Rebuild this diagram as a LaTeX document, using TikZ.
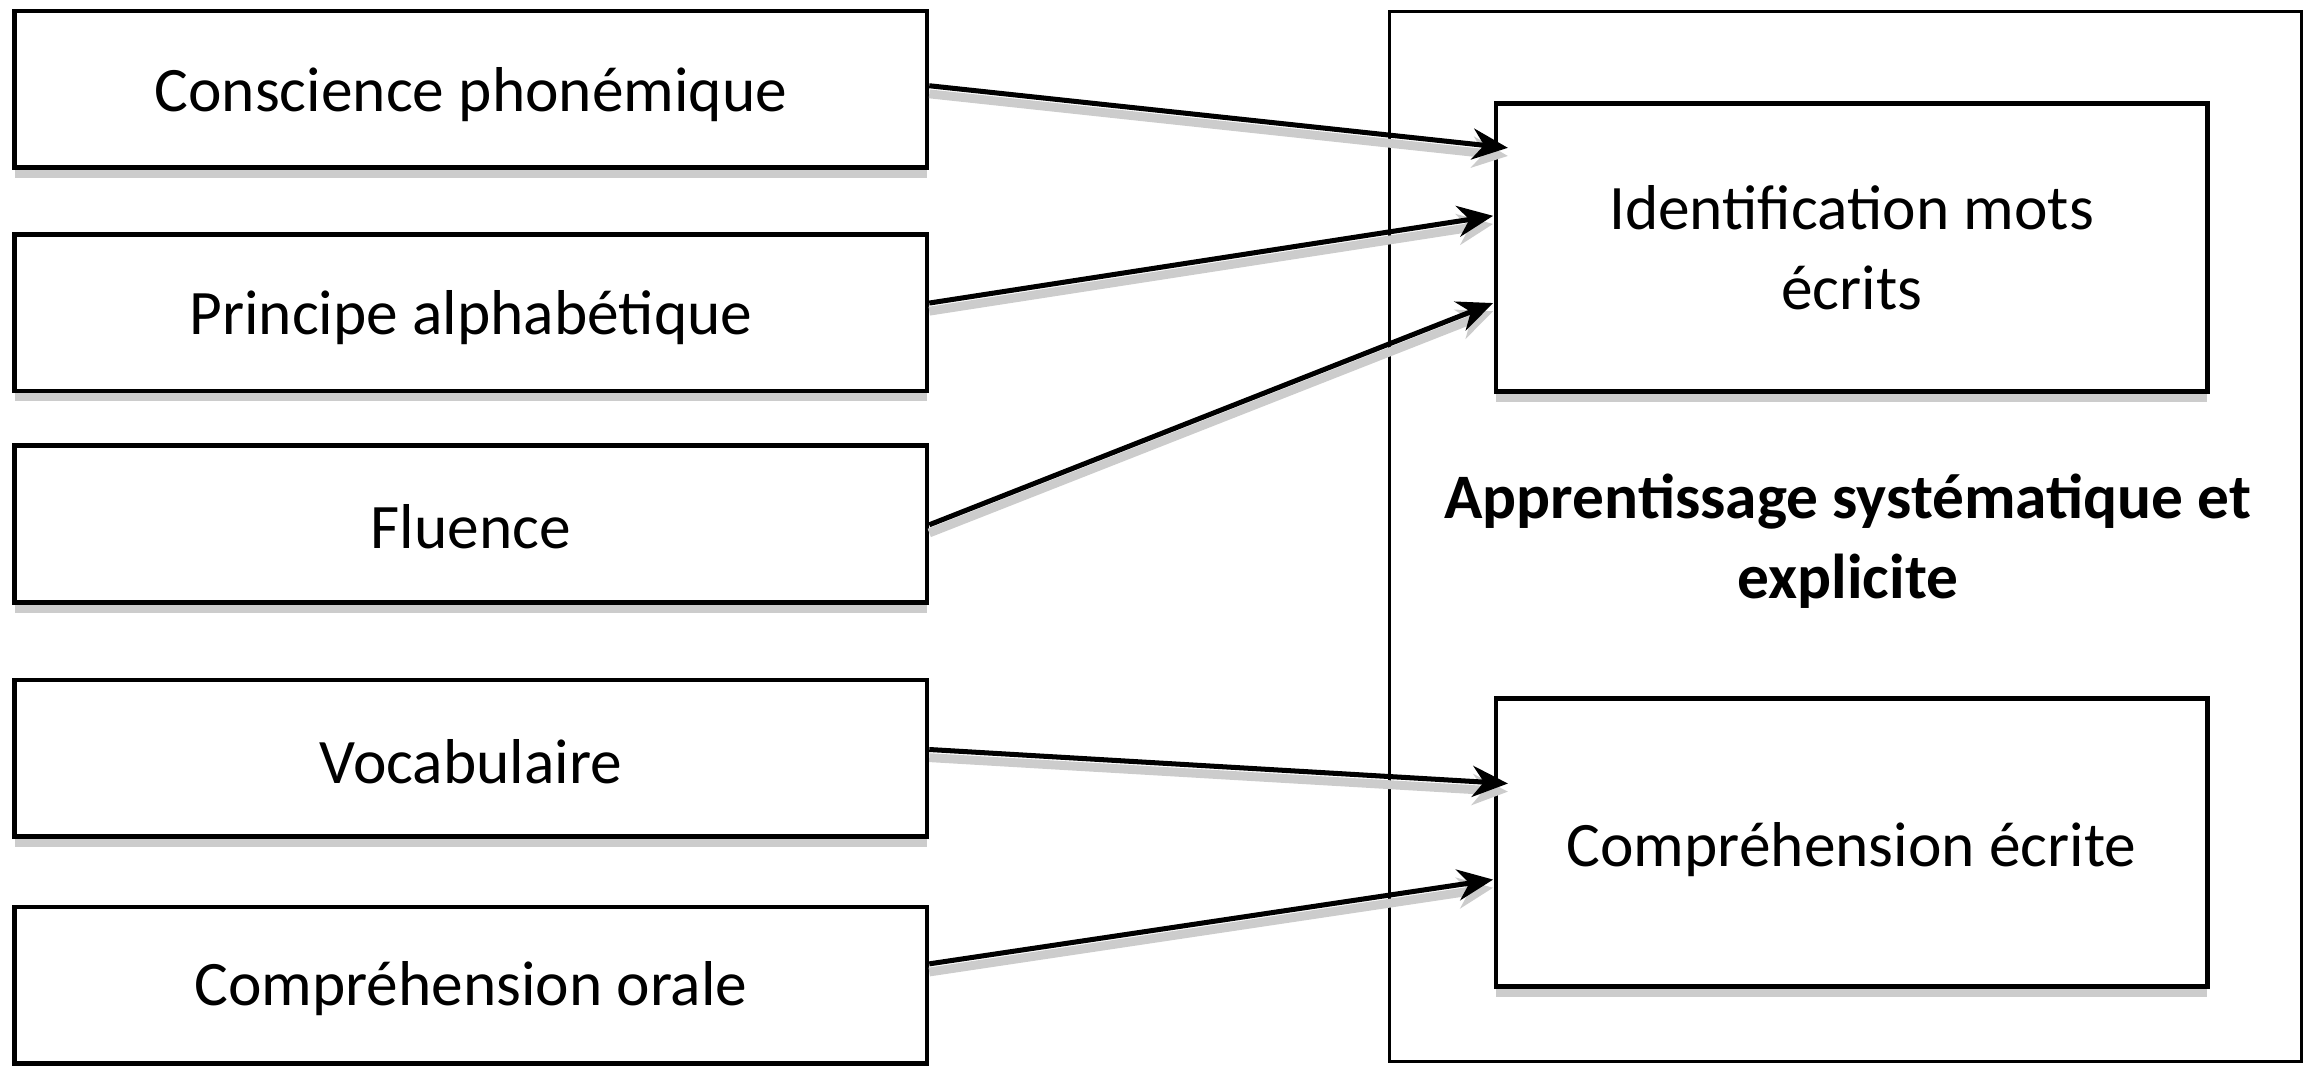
\documentclass[tikz,border=0pt]{standalone}
\usepackage{fontspec}
\setmainfont{Carlito}
\usetikzlibrary{arrows.meta,shadows}
\newcommand{\lowertxt}[2]{\raisebox{-#1}[\height][\depth]{#2}}
\begin{document}
\begin{tikzpicture}[x=0.1mm,y=-0.1mm,
  box/.style={draw=black, line width=0.32mm, fill=white, inner sep=0pt, align=center,
    font=\fontsize{12.2}{15.4}\selectfont,
    drop shadow={shadow xshift=0mm, shadow yshift=-0.7mm, fill=black!20, opacity=1}},
  lbox/.style={box, minimum width=61.7mm, minimum height=10.6mm},
  rbox/.style={box, minimum width=48.1mm, minimum height=19.5mm},
  outerbox/.style={draw=black, line width=0.2mm, inner sep=0pt, minimum width=61.7mm, minimum height=71mm},
  lbl/.style={align=center, font=\fontsize{12.2}{15.4}\selectfont\bfseries},
  arr/.style={-{Stealth[length=2.4mm,width=2.1mm]}, line width=0.34mm,
    preaction={draw=black!20, line width=0.6mm, transform canvas={yshift=-0.55mm}}}]
\useasboundingbox (0,0) rectangle (1568,721);
\node[outerbox] (outer) at (1248.5,363) {};
\node[lbl] (title) at (1250,366) {Apprentissage systématique et\\explicite};
\node[rbox] (i1) at (1252.5,167.5) {Identification mots\\écrits};
\node[rbox] (i2) at (1252.5,570) {\lowertxt{0.45mm}{Compréhension écrite}};
\node[lbox] (c1) at (318.5,60.5) {\lowertxt{0.35mm}{Conscience phonémique}};
\node[lbox] (c2) at (318.5,211.5) {\lowertxt{0.35mm}{Principe alphabétique}};
\node[lbox] (c3) at (318.5,354.5) {\lowertxt{0.2mm}{Fluence}};
\node[lbox] (c4) at (318.5,513) {\lowertxt{0.2mm}{Vocabulaire}};
\node[lbox] (c5) at (318.5,666.5) {\lowertxt{0.2mm}{Compréhension orale}};
\coordinate (t1) at (1020,100);
\coordinate (t2) at (1010,146);
\coordinate (t3) at (1010,205);
\coordinate (t4) at (1020,530);
\coordinate (t5) at (1010,595);
\draw[arr] (c1.east |- 0,58) -- (t1);
\draw[arr] (c2.east |- 0,205) -- (t2);
\draw[arr] (c3.east |- 0,355) -- (t3);
\draw[arr] (c4.east |- 0,507) -- (t4);
\draw[arr] (c5.east |- 0,652) -- (t5);
\end{tikzpicture}
\end{document}
